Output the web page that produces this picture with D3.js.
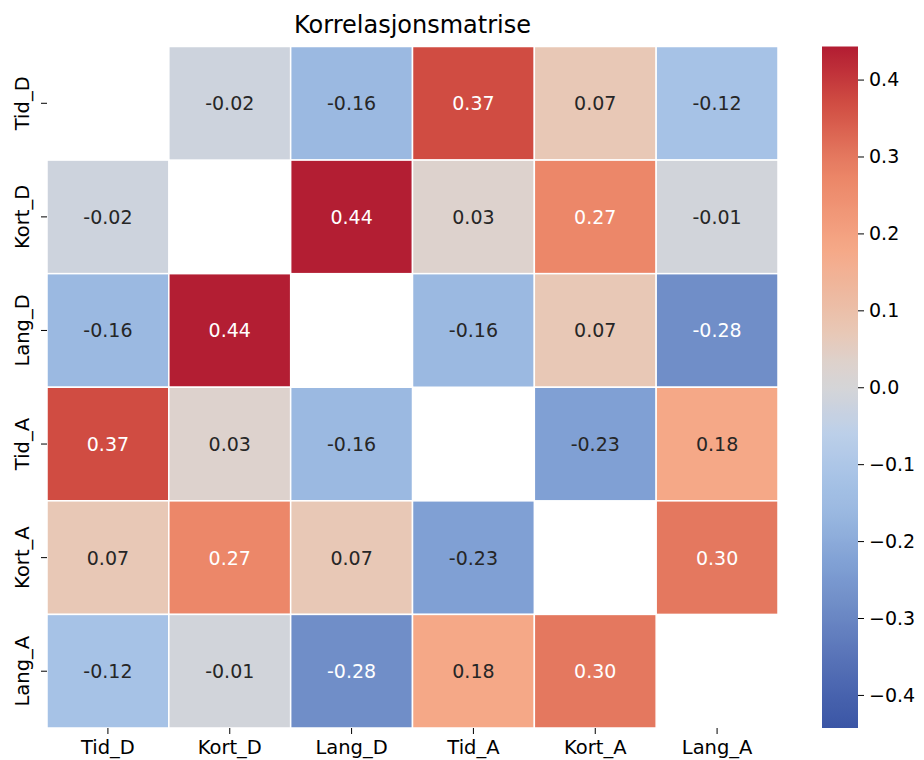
<!DOCTYPE html>
<html><head><meta charset="utf-8">
<script src="https://cdn.jsdelivr.net/npm/d3@7"></script>
<style>body{margin:0;background:#fff;} text{font-family:"DejaVu Sans",sans-serif;}</style>
</head><body>
<svg id="chart" width="924" height="760"></svg>
<script>
const labels = ["Tid_D","Kort_D","Lang_D","Tid_A","Kort_A","Lang_A"];
const row_Tid_D  = [null, -0.02, -0.16, 0.37, 0.07, -0.12];
const row_Kort_D = [-0.02, null, 0.44, 0.03, 0.27, -0.01];
const row_Lang_D = [-0.16, 0.44, null, -0.16, 0.07, -0.28];
const row_Tid_A  = [0.37, 0.03, -0.16, null, -0.23, 0.18];
const row_Kort_A = [0.07, 0.27, 0.07, -0.23, null, 0.30];
const row_Lang_A = [-0.12, -0.01, -0.28, 0.18, 0.30, null];
const rows = [row_Tid_D,row_Kort_D,row_Lang_D,row_Tid_A,row_Kort_A,row_Lang_A];
const colorbarTicks = [-0.4,-0.3,-0.2,-0.1,0.0,0.1,0.2,0.3,0.4];
const title = "Korrelasjonsmatrise";
const vlim = 0.443;

// diverging colormap (coolwarm as it appears in the reference)
const cmapValues = [-0.443,-0.35,-0.28,-0.23,-0.16,-0.12,-0.06,0.0,0.03,0.07,0.18,0.27,0.30,0.37,0.443];
const cmapColors = ["#3a55a5","#5873b8","#708ec8","#80a0d4","#9bb9e1","#a6c2e6","#bccfe9","#d5d5d7","#ddd2cd","#e8c8b6","#f5a887","#ec8769","#e4785f","#d04c42","#b21c32"];
const color = d3.scaleLinear().domain(cmapValues).range(cmapColors).interpolate(d3.interpolateRgb).clamp(true);

const svg = d3.select("#chart");
const L=47, R=778, T=46.5, B=728;
const x = d3.scaleBand().domain(labels).range([L,R]).padding(0);
const y = d3.scaleBand().domain(labels).range([T,B]).padding(0);

const cells = [];
rows.forEach((r,i)=>r.forEach((v,j)=>{ if(v!==null) cells.push({r:labels[i],c:labels[j],v}); }));

svg.append("g").selectAll("rect").data(cells).join("rect")
  .attr("x",d=>x(d.c)).attr("y",d=>y(d.r))
  .attr("width",x.bandwidth()).attr("height",y.bandwidth())
  .attr("fill",d=>color(d.v)).attr("stroke","#fff").attr("stroke-width",1.5);

svg.append("g").selectAll("text").data(cells).join("text")
  .attr("x",d=>x(d.c)+x.bandwidth()/2).attr("y",d=>y(d.r)+y.bandwidth()/2)
  .attr("text-anchor","middle").attr("dominant-baseline","central")
  .attr("font-size",19)
  .attr("fill",d=>Math.abs(d.v)>0.25?"#ffffff":"#262626")
  .text(d=>(d.v<0?"-":"")+Math.abs(d.v).toFixed(2));

// axes
const xa = svg.append("g").attr("transform",`translate(0,${B})`)
  .call(d3.axisBottom(x).tickSize(6).tickPadding(6));
xa.select(".domain").remove();
xa.selectAll("text").attr("font-size",19.5).attr("fill","#000").attr("dy","0.71em");
xa.selectAll("line").attr("stroke","#000");

const ya = svg.append("g").attr("transform",`translate(${L},0)`)
  .call(d3.axisLeft(y).tickSize(6).tickPadding(6));
ya.select(".domain").remove();
ya.selectAll("line").attr("stroke","#000");
ya.selectAll(".tick").each(function(d){
  d3.select(this).select("text")
    .attr("font-size",19.5).attr("fill","#000")
    .attr("text-anchor","middle")
    .attr("transform","translate(-25,0) rotate(-90)")
    .attr("x",0).attr("y",0).attr("dy","0.35em");
});

// title
svg.append("text").attr("x",(L+R)/2).attr("y",33).attr("text-anchor","middle")
  .attr("font-size",24).attr("fill","#000").text(title);

// colorbar
const cbX=822, cbW=36;
const cb = d3.scaleLinear().domain([-vlim,vlim]).range([B,T]);
const defs = svg.append("defs");
const grad = defs.append("linearGradient").attr("id","cbgrad").attr("x1",0).attr("y1",1).attr("x2",0).attr("y2",0);
d3.range(0,1.0001,0.01).forEach(t=>grad.append("stop").attr("offset",t).attr("stop-color",color(-vlim+2*vlim*t)));
svg.append("rect").attr("x",cbX).attr("y",T).attr("width",cbW).attr("height",B-T).attr("fill","url(#cbgrad)");
const ca = svg.append("g").attr("transform",`translate(${cbX+cbW},0)`)
  .call(d3.axisRight(cb).tickValues(colorbarTicks).tickFormat(d3.format(".1f")).tickSize(6).tickPadding(5));
ca.select(".domain").remove();
ca.selectAll("line").attr("stroke","#000");
ca.selectAll("text").attr("font-size",19).attr("fill","#000");
</script>
</body></html>
